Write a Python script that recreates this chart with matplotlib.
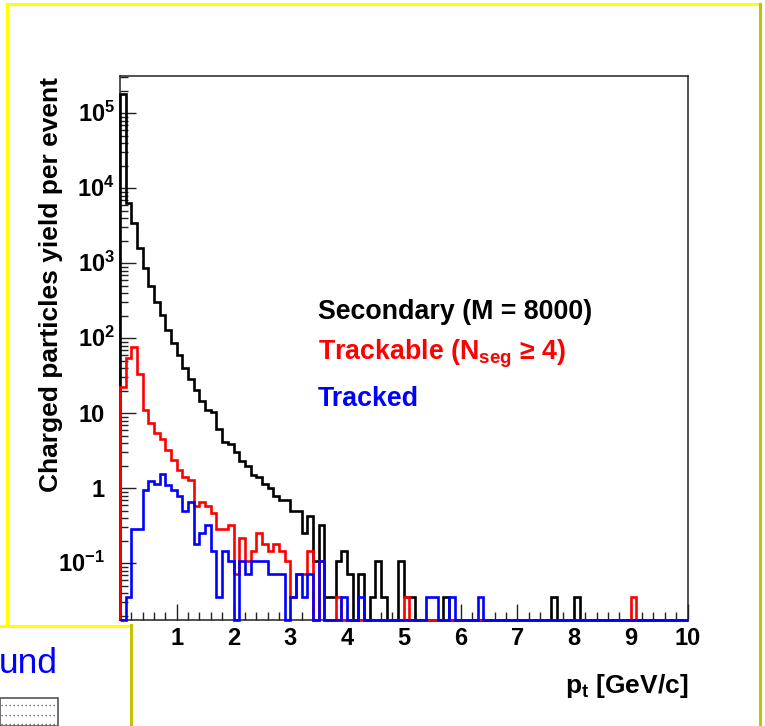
import numpy as np
import matplotlib
matplotlib.use('Agg')
import matplotlib.pyplot as plt
from matplotlib.lines import Line2D
from matplotlib.patches import Rectangle
import matplotlib.transforms as mtransforms
from matplotlib.ticker import MultipleLocator, LogLocator, NullFormatter

plt.rcParams['font.family'] = ['Liberation Sans', 'DejaVu Sans']
plt.rcParams['mathtext.fontset'] = 'custom'
plt.rcParams['mathtext.rm'] = 'Liberation Sans:bold'
plt.rcParams['mathtext.bf'] = 'Liberation Sans:bold'
plt.rcParams['mathtext.it'] = 'Liberation Sans:bold'

# ---------------- data (bins of 0.1 GeV/c from 0 to 10) ----------------
bin_edges = np.round(np.linspace(0.0, 10.0, 101), 2)

secondary = [
    1.8e5, 6300, 3400, 1610, 860, 500, 307, 205, 129, 86,
    60, 40, 29, 20.5, 14.7, 11.1, 10.5, 6.2, 4.2, 3.9,
    3.0, 2.3, 2.0, 1.5, 1.4, 1.15, 1.0, 0.80, 0.70, 0.70,
    0.50, 0.50, 0.25, 0.43, 0.108, 0.323, 0.036, 0.036, 0.108, 0.144,
    0.072, 0, 0.072, 0, 0.036, 0.108, 0.036, 0, 0, 0.108,
    0.036, 0.036, 0, 0, 0, 0, 0, 0.036, 0, 0,
    0, 0, 0, 0, 0, 0, 0, 0, 0, 0,
    0, 0, 0, 0, 0, 0, 0.036, 0, 0, 0,
    0.036, 0, 0, 0, 0, 0, 0, 0, 0, 0,
    0, 0, 0, 0, 0, 0, 0, 0, 0, 0,
]

trackable = [
    22.6, 54, 77, 33.4, 11.1, 7.4, 5.4, 4.6, 3.24, 2.4,
    1.75, 1.40, 1.27, 0.574, 0.646, 0.574, 0.467, 0.287, 0.287, 0.323,
    0.072, 0.215, 0.108, 0.144, 0.251, 0.18, 0.144, 0.18, 0.144, 0.108,
    0.036, 0.072, 0.072, 0.144, 0, 0.108, 0, 0, 0.036, 0,
    0, 0, 0, 0, 0, 0, 0, 0, 0, 0,
    0.036, 0, 0, 0, 0, 0, 0, 0, 0, 0,
    0, 0, 0, 0, 0, 0, 0, 0, 0, 0,
    0, 0, 0, 0, 0, 0, 0, 0, 0, 0,
    0, 0, 0, 0, 0, 0, 0, 0, 0, 0,
    0.036, 0, 0, 0, 0, 0, 0, 0, 0, 0,
]

tracked = [
    0, 0.036, 0.287, 0.287, 0.95, 1.25, 1.15, 1.55, 1.12, 0.95,
    0.78, 0.49, 0.66, 0.18, 0.25, 0.323, 0.144, 0.036, 0.144, 0.108,
    0, 0.108, 0.072, 0.108, 0.108, 0.108, 0.072, 0.072, 0.072, 0,
    0.036, 0.072, 0.036, 0.072, 0, 0.108, 0, 0, 0, 0.036,
    0, 0, 0.036, 0, 0, 0, 0, 0, 0, 0,
    0, 0, 0, 0, 0.036, 0.036, 0, 0, 0.036, 0,
    0, 0, 0, 0.036, 0, 0, 0, 0, 0, 0,
    0, 0, 0, 0, 0, 0, 0, 0, 0, 0,
    0, 0, 0, 0, 0, 0, 0, 0, 0, 0,
    0, 0, 0, 0, 0, 0, 0, 0, 0, 0,
]

series_names = ['Secondary (M = 8000)', r'Trackable ($\mathbf{N_{seg}}$ ≥ 4)', 'Tracked']
series_colors = ['#000000', '#ff0000', '#0000ff']

x_tick_values = list(range(0, 11))
x_tick_labels = [''] + [str(v) for v in range(1, 11)]
y_tick_values = [1e5, 1e4, 1e3, 1e2, 1e1, 1e0, 1e-1]
y_tick_labels = [r'$\mathbf{10^{5}}$', r'$\mathbf{10^{4}}$', r'$\mathbf{10^{3}}$',
                 r'$\mathbf{10^{2}}$', '10', '1', r'$\mathbf{10^{-1}}$']

# ---------------- layout ----------------
W, H = 765, 726
fig = plt.figure(figsize=(W / 100, H / 100), dpi=100)
fig.patch.set_facecolor('white')

def fx(px):
    return px / W

def fy(py):
    return 1 - py / H

ax_l, ax_r, ax_t, ax_b = 120, 687.5, 75.7, 620
ax = fig.add_axes([fx(ax_l), fy(ax_b), fx(ax_r - ax_l), (ax_b - ax_t) / H])

ymin, ymax = 0.0175, 3.17e5
ax.set_xlim(0, 10)
ax.set_yscale('log')
ax.set_ylim(ymin, ymax)

for vals, col in zip([secondary, trackable, tracked], series_colors):
    v = np.clip(np.asarray(vals, dtype=float), ymin, None)
    ax.stairs(v, bin_edges, baseline=ymin, color=col, linewidth=1.9,
              clip_on=False, zorder=3)

for sp in ax.spines.values():
    sp.set_color('#222222')
    sp.set_linewidth(1.1)

ax.xaxis.set_major_locator(MultipleLocator(1))
ax.xaxis.set_minor_locator(MultipleLocator(0.2))
ax.set_xticks(x_tick_values)
ax.set_xticklabels(x_tick_labels)
ax.yaxis.set_major_locator(LogLocator(base=10, numticks=20))
ax.yaxis.set_minor_locator(LogLocator(base=10, subs=np.arange(2, 10), numticks=40))
ax.yaxis.set_minor_formatter(NullFormatter())
ax.set_yticks(y_tick_values)
ax.set_yticklabels([])
ax.tick_params(axis='both', which='major', direction='in', length=11.5, width=1.0,
               top=False, right=False, color='#222222')
ax.tick_params(axis='both', which='minor', direction='in', length=5.8, width=1.0,
               top=False, right=False, color='#222222')
ax.tick_params(axis='x', which='major', labelsize=17, pad=5)
for lab in ax.get_xticklabels():
    lab.set_fontweight('bold')

# y tick labels drawn at the data positions
btrans = mtransforms.blended_transform_factory(fig.transFigure, ax.transData)
for val, lab in zip(y_tick_values, y_tick_labels):
    xr = 115 if lab.startswith(r'$\mathbf{10^{') and '-' not in lab else 105
    fig.text(fx(xr), val, lab,
             transform=btrans + mtransforms.ScaledTranslation(0, -6 / 72, fig.dpi_scale_trans),
             ha='right', va='baseline', fontsize=17, fontweight='bold', color='black')

# axis titles
fig.text(fx(51), fy(285), 'Charged particles yield per event', rotation=90,
         ha='center', va='center', fontsize=19, fontweight='bold', color='black')
fig.text(fx(688), fy(693), r'$\mathbf{p_{t}}$ [GeV/c]', ha='right', va='baseline',
         fontsize=19, fontweight='bold', color='black')

# legend-like labels
for name, col, base in zip(series_names, series_colors, [318.5, 359.5, 405.5]):
    fig.text(fx(318), fy(base), name, color=col, ha='left', va='baseline',
             fontsize=19.3, fontweight='bold')

# pad borders (yellow)
fig.add_artist(Line2D([fx(7), fx(760)], [fy(4), fy(4)], color='#ffff00', lw=2.2))
fig.add_artist(Line2D([fx(7), fx(7)], [fy(4), fy(626)], color='#ffff00', lw=2.2))
fig.add_artist(Line2D([fx(759.5), fx(759.5)], [fy(4), fy(726)], color='#c4c400', lw=2.2))

# overlapping pad at bottom-left
fig.add_artist(Rectangle((0, 0), fx(131), fy(625), transform=fig.transFigure,
                         facecolor='white', edgecolor='none', zorder=5))
fig.add_artist(Line2D([0, fx(131)], [fy(625.5), fy(625.5)], color='#ffff00', lw=2.2, zorder=6))
fig.add_artist(Line2D([fx(131), fx(131)], [fy(625), 0], color='#c4c400', lw=2.2, zorder=6))
fig.text(fx(-1), fy(673), 'und', color='#0000ff', fontsize=25.5, ha='left', va='baseline', zorder=7)
fig.add_artist(Rectangle((0, 0), fx(57.5), fy(698), transform=fig.transFigure,
                         facecolor='white', edgecolor='#555555', lw=1.2, zorder=7))
for yy in [705, 715, 724]:
    fig.add_artist(Line2D([fx(1), fx(55)], [fy(yy), fy(yy)], color='#444444', lw=0.9,
                          linestyle=(0, (1, 2.2)), zorder=8))

fig.savefig('out.png', dpi=100, facecolor='white')
